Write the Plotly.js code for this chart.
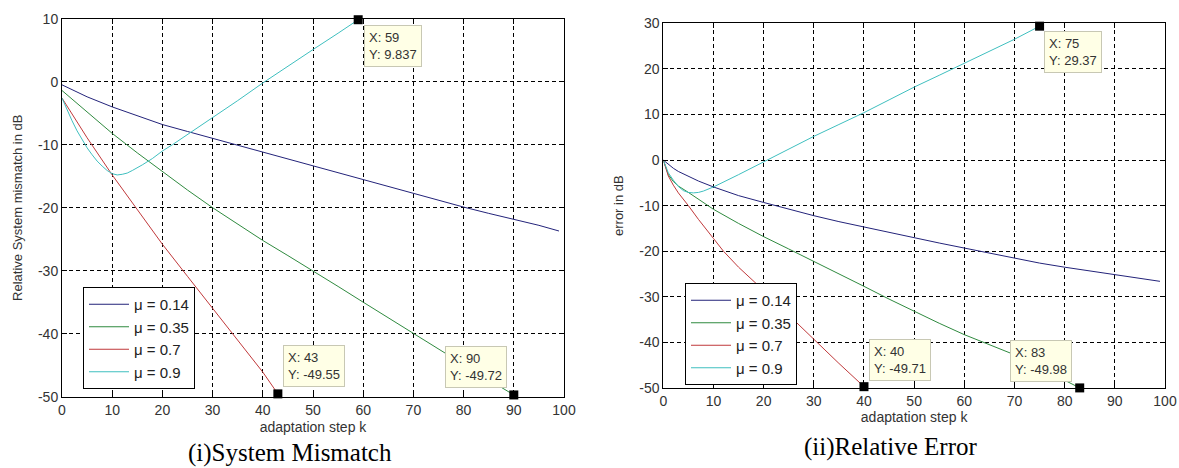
<!DOCTYPE html>
<html>
<head>
<meta charset="utf-8">
<script src="https://cdn.plot.ly/plotly-3.0.1.min.js"></script>
<style>
  html, body { margin: 0; padding: 0; background: #ffffff; }
  #chart { width: 1179px; height: 468px; }
</style>
</head>
<body>
<div id="chart"></div>
<script>
// ---------- data ----------
const seriesNames = ["μ = 0.14", "μ = 0.35", "μ = 0.7", "μ = 0.9"];
const seriesColors = ["#23237a", "#2f8a3f", "#c0393b", "#3fbfbf"];

// (i) System mismatch (dB)
const misK014 = [0,5,10,15,20,25,30,35,40,45,50,55,60,65,70,75,80,85,90,95,99];
const misDb014 = [-0.5,-2.4,-4.0,-5.4,-6.8,-7.9,-9.0,-10.1,-11.1,-12.3,-13.4,-14.5,-15.6,-16.7,-17.7,-18.8,-19.9,-20.9,-21.8,-22.8,-23.7];
const misK035 = [0,5,10,15,20,25,30,35,40,45,50,55,60,65,70,75,80,85,90];
const misDb035 = [-1.4,-4.8,-8.2,-11.3,-14.3,-17.2,-20.0,-22.6,-25.2,-27.6,-30.0,-32.5,-35.0,-37.5,-40.0,-42.4,-44.9,-47.3,-49.72];
const misK07 = [0,5,10,15,20,25,30,35,40,43];
const misDb07 = [-2.6,-8.9,-14.8,-20.4,-25.8,-30.9,-36.0,-41.0,-46.1,-49.55];
const misK09 = [0,1,2,3,4,5,6,7,8,9,10,11,12,13,14,15,16,18,20,22,25,30,35,40,45,50,55,59];
const misDb09 = [-2.6,-4.5,-6.2,-7.8,-9.2,-10.5,-11.6,-12.6,-13.4,-14.1,-14.6,-14.8,-14.7,-14.5,-14.1,-13.7,-13.2,-12.2,-11.0,-10.0,-8.4,-5.7,-3.0,-0.2,2.5,5.1,7.7,9.837];

// (ii) Relative error (dB)
const errK014 = [0,1,2,3,5,7,10,15,20,25,30,35,40,45,50,55,60,65,70,75,80,85,90,95,99];
const errDb014 = [0,-1.0,-1.8,-2.5,-3.6,-4.6,-5.9,-7.8,-9.3,-10.8,-12.2,-13.5,-14.7,-15.9,-17.1,-18.2,-19.3,-20.4,-21.5,-22.6,-23.5,-24.3,-25.1,-25.9,-26.6];
const errK035 = [0,1,2,3,5,10,15,20,25,30,35,40,45,50,55,60,65,70,75,80,83];
const errDb035 = [0,-3.2,-4.7,-5.7,-7.1,-10.8,-13.9,-16.8,-19.5,-22.2,-24.9,-27.7,-30.5,-33.2,-35.8,-38.3,-40.5,-42.7,-45.5,-48.3,-49.98];
const errK07 = [0,1,2,3,5,7,10,12,15,18,20,25,30,35,40];
const errDb07 = [0,-3.5,-5.5,-7.2,-10.0,-13.0,-17.2,-20.0,-23.5,-26.6,-28.6,-34.0,-39.4,-44.6,-49.71];
const errK09 = [0,1,2,3,4,5,6,7,8,10,15,20,25,30,35,40,45,50,55,60,65,70,75];
const errDb09 = [0,-2.8,-4.4,-5.8,-6.7,-7.1,-7.2,-7.1,-6.8,-5.9,-3.2,-0.4,2.4,5.2,7.8,10.4,13.2,16.0,18.6,21.2,23.9,26.5,29.37];

// data tips
const misTipK = [59, 43, 90];
const misTipDb = [9.837, -49.55, -49.72];
const errTipK = [75, 40, 83];
const errTipDb = [29.37, -49.71, -49.98];

const xTicks = [0,10,20,30,40,50,60,70,80,90,100];
const misYTicks = [-50,-40,-30,-20,-10,0,10];
const errYTicks = [-50,-40,-30,-20,-10,0,10,20,30];

// ---------- traces ----------
const misK = [misK014, misK035, misK07, misK09];
const misDb = [misDb014, misDb035, misDb07, misDb09];
const errK = [errK014, errK035, errK07, errK09];
const errDb = [errDb014, errDb035, errDb07, errDb09];

const traces = [];
for (let i = 0; i < 4; i++) {
  traces.push({
    x: misK[i], y: misDb[i], type: 'scatter', mode: 'lines',
    name: seriesNames[i], line: {color: seriesColors[i], width: 1},
    xaxis: 'x', yaxis: 'y', legend: 'legend'
  });
}
for (let i = 0; i < 4; i++) {
  traces.push({
    x: errK[i], y: errDb[i], type: 'scatter', mode: 'lines',
    name: seriesNames[i], line: {color: seriesColors[i], width: 1},
    xaxis: 'x2', yaxis: 'y2', legend: 'legend2'
  });
}
traces.push({
  x: misTipK, y: misTipDb, type: 'scatter', mode: 'markers',
  marker: {symbol: 'square', size: 9, color: '#000000'},
  cliponaxis: false, showlegend: false, xaxis: 'x', yaxis: 'y', hoverinfo: 'skip'
});
traces.push({
  x: errTipK, y: errTipDb, type: 'scatter', mode: 'markers',
  marker: {symbol: 'square', size: 9, color: '#000000'},
  cliponaxis: false, showlegend: false, xaxis: 'x2', yaxis: 'y2', hoverinfo: 'skip'
});

// ---------- layout ----------
const W = 1179, H = 468;
const fontFam = '"Liberation Sans", Arial, sans-serif';
const textCol = '#333333';

function xAxis(dom, titleStandoff) {
  return {
    domain: dom, range: [0, 100], tickvals: xTicks, ticktext: xTicks.map(String),
    ticks: 'inside', ticklen: 5, tickcolor: '#000', mirror: 'ticks',
    showline: true, linecolor: '#000', linewidth: 1,
    showgrid: true, gridcolor: '#000', gridwidth: 1, griddash: '4px,3px',
    zeroline: false, tickfont: {family: fontFam, size: 14, color: textCol},
    title: {text: 'adaptation step k', font: {family: fontFam, size: 14, color: textCol}, standoff: titleStandoff},
    automargin: false, fixedrange: true
  };
}
function yAxis(dom, range, tv, title, titleStandoff) {
  return {
    domain: dom, range: range, tickvals: tv, ticktext: tv.map(String),
    ticks: 'inside', ticklen: 5, tickcolor: '#000', mirror: 'ticks',
    showline: true, linecolor: '#000', linewidth: 1,
    showgrid: true, gridcolor: '#000', gridwidth: 1, griddash: '4px,3px',
    zeroline: false, tickfont: {family: fontFam, size: 14, color: textCol},
    title: {text: title, font: {family: fontFam, size: 13, color: textCol}, standoff: titleStandoff},
    automargin: false, fixedrange: true
  };
}

function tip(xref, yref, x, y, xanchor, yanchor, xs, ys) {
  return {
    xref: xref, yref: yref, x: x, y: y, xanchor: xanchor, yanchor: yanchor,
    xshift: xs, yshift: ys, showarrow: false, align: 'left',
    text: 'X: ' + x + '<br>Y: ' + y,
    font: {family: fontFam, size: 13, color: textCol},
    bgcolor: '#ffffe6', bordercolor: '#c8c8b4', borderwidth: 1, borderpad: 4
  };
}

const legendCommon = {
  bgcolor: '#ffffff', bordercolor: '#000000', borderwidth: 1,
  font: {family: fontFam, size: 15, color: '#222'},
  xanchor: 'left', yanchor: 'top', xref: 'paper', yref: 'paper',
  tracegroupgap: 0, itemwidth: 40
};

const layout = {
  width: W, height: H,
  margin: {l: 0, r: 0, t: 0, b: 0},
  paper_bgcolor: '#ffffff', plot_bgcolor: '#ffffff',
  showlegend: true,
  xaxis: Object.assign(xAxis([62 / W, 564 / W], 5), {anchor: 'y'}),
  yaxis: Object.assign(yAxis([1 - 396.7 / H, 1 - 18.7 / H], [-50, 10], misYTicks, 'Relative System mismatch in dB', 12), {anchor: 'x'}),
  xaxis2: Object.assign(xAxis([663.3 / W, 1165 / W], 4), {anchor: 'y2'}),
  yaxis2: Object.assign(yAxis([1 - 388 / H, 1 - 23.3 / H], [-50, 30], errYTicks, 'error in dB', 12), {anchor: 'x2'}),
  legend: Object.assign({}, legendCommon, {x: 83 / W, y: 1 - 287 / H}),
  legend2: Object.assign({}, legendCommon, {x: 685 / W, y: 1 - 283 / H}),
  annotations: [
    tip('x', 'y', misTipK[0], misTipDb[0], 'left', 'top', 6, -5),
    tip('x', 'y', misTipK[1], misTipDb[1], 'left', 'bottom', 5, 7),
    tip('x', 'y', misTipK[2], misTipDb[2], 'right', 'bottom', -7, 7),
    tip('x2', 'y2', errTipK[0], errTipDb[0], 'left', 'top', 4, -5),
    tip('x2', 'y2', errTipK[1], errTipDb[1], 'left', 'bottom', 5, 6),
    tip('x2', 'y2', errTipK[2], errTipDb[2], 'right', 'bottom', -8, 6),
    {xref: 'paper', yref: 'paper', x: 290 / W, y: 1 - 453 / H, xanchor: 'center', yanchor: 'middle',
     showarrow: false, text: '(i)System Mismatch',
     font: {family: '"Liberation Serif", "Times New Roman", serif', size: 25, color: '#000'}},
    {xref: 'paper', yref: 'paper', x: 891 / W, y: 1 - 447 / H, xanchor: 'center', yanchor: 'middle',
     showarrow: false, text: '(ii)Relative Error',
     font: {family: '"Liberation Serif", "Times New Roman", serif', size: 25, color: '#000'}}
  ]
};

Plotly.newPlot('chart', traces, layout, {displayModeBar: false, staticPlot: true});
</script>
</body>
</html>
